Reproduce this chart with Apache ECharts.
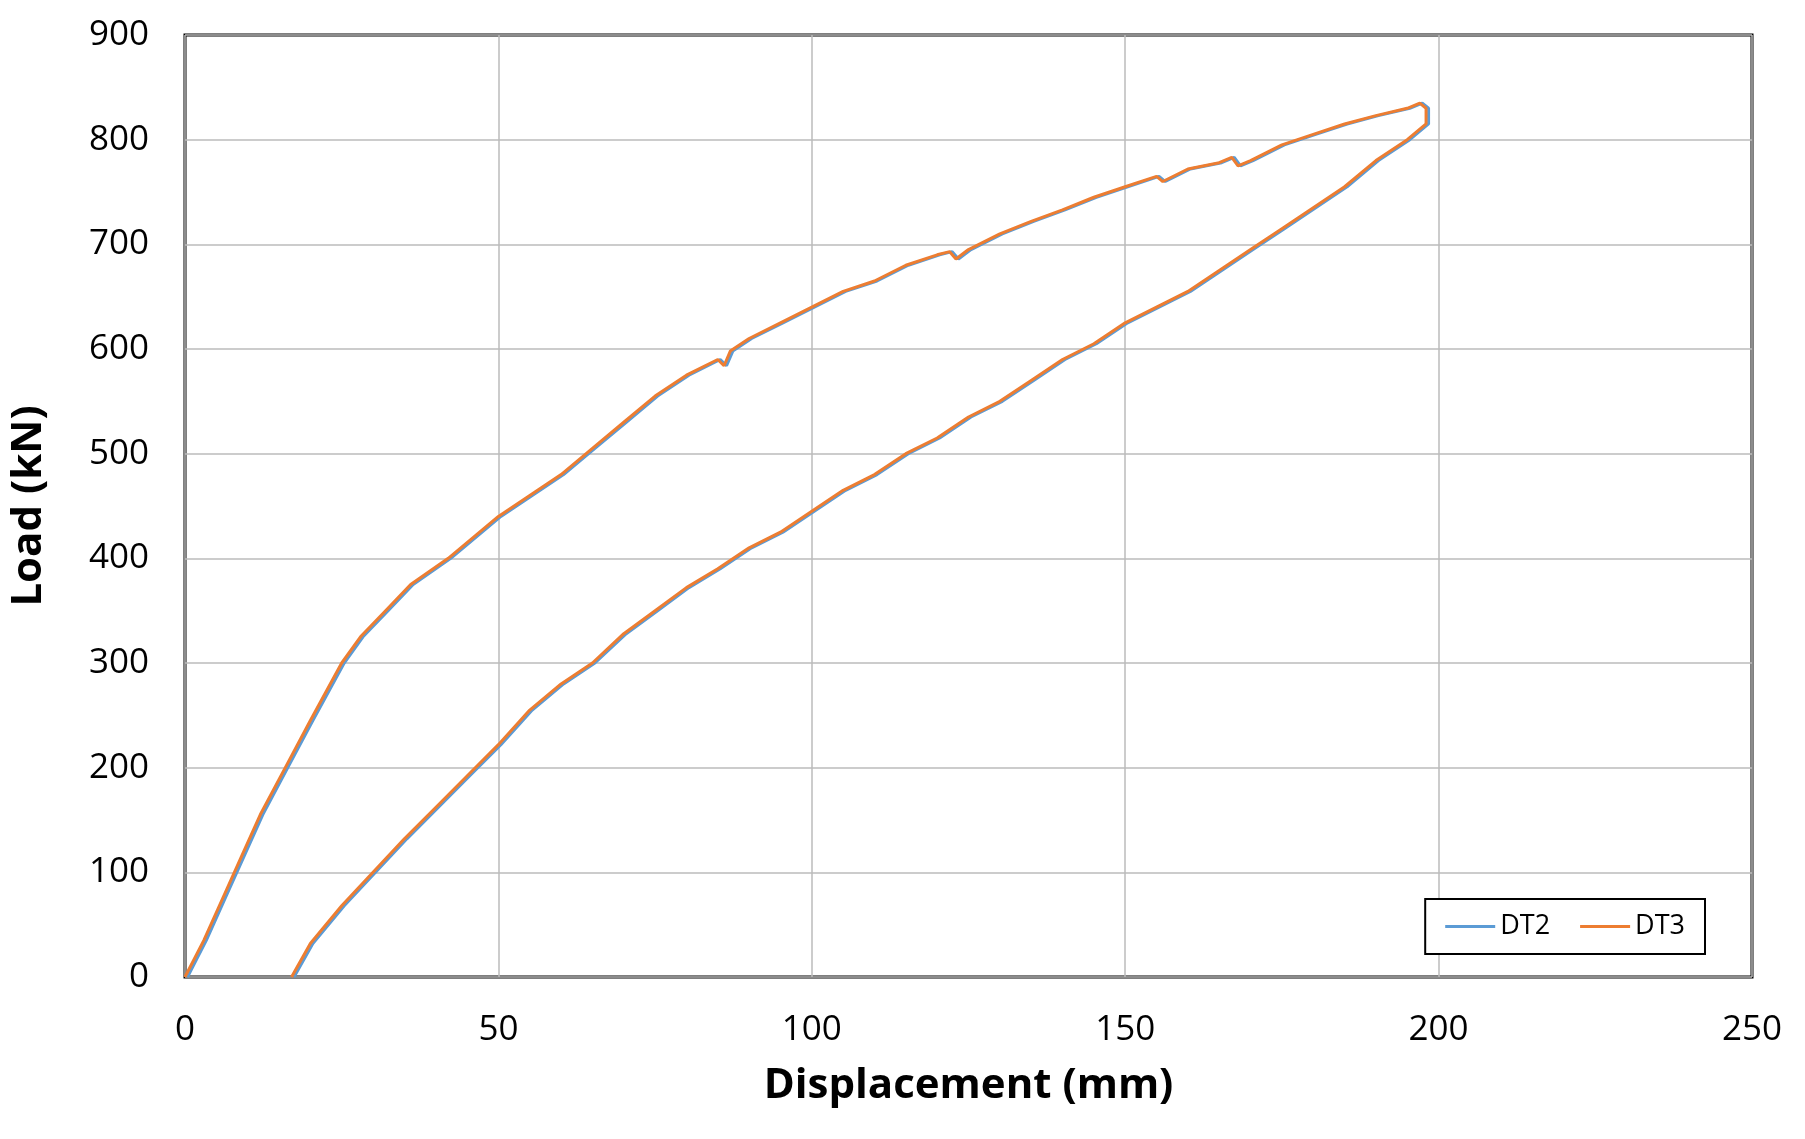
<!DOCTYPE html>
<html><head><meta charset="utf-8">
<script src="https://cdn.jsdelivr.net/npm/echarts@6/dist/echarts.min.js"></script>
<style>html,body{margin:0;padding:0;background:#fff}#c{width:1805px;height:1139px}</style>
</head><body><div id="c"></div>
<script>
const loadX=[0,3,6,9,12,16,20,25,28,32,36,42,50,55,60,65,70,75,80,85,86,87,90,95,100,105,110,115,120,122,123,125,130,135,140,145,150,155,156,160,165,167,168,170,175,180,185,190,195,197,198,198];
const loadY=[0,35,75,115,155,200,245,300,325,350,375,400,440,460,480,505,530,555,575,590,584,598,610,625,640,655,665,680,690,693,686,695,710,722,733,745,755,765,760,772,778,783,775,780,795,805,815,823,830,835,830,815];
const unloadX=[195,190,185,180,175,170,165,160,155,150,145,140,135,130,125,120,115,110,105,100,95,90,85,80,75,70,65,60,55,50,45,40,35,30,25,20,17];
const unloadY=[800,780,755,735,715,695,675,655,640,625,605,590,570,550,535,515,500,480,465,445,425,410,390,372,350,328,300,280,255,222,192,162,132,100,68,32,0];
const seriesNames=['DT2','DT3'];
function build(dx){
  const d=[];
  for(let i=0;i<loadX.length;i++)d.push([loadX[i]+dx,loadY[i]]);
  for(let i=0;i<unloadX.length;i++)d.push([unloadX[i]+dx,unloadY[i]]);
  return d;
}
const dt2=build(0.4), dt3=build(0);
const chart=echarts.init(document.getElementById('c'));
const font='"Open Sans", sans-serif';
chart.setOption({
  animation:false,
  grid:{left:177,right:53,top:35,bottom:162,show:true,borderColor:'#000',borderWidth:3},
  legend:{right:100,bottom:185,orient:'horizontal',backgroundColor:'#fff',borderColor:'#000',borderWidth:2,padding:[14,20,14,20],itemGap:30,itemWidth:50,itemHeight:3,icon:'rect',
    textStyle:{fontFamily:font,fontSize:27,color:'#000'},data:seriesNames},
  xAxis:{type:'value',min:0,max:250,interval:50,name:'Displacement (mm)',nameLocation:'middle',nameGap:88,
    nameTextStyle:{fontFamily:font,fontSize:42,fontWeight:'bold',color:'#000'},
    axisLine:{show:false},axisTick:{show:false},axisLabel:{fontFamily:font,fontSize:35,color:'#000',margin:36},
    splitLine:{lineStyle:{color:'#bbb',width:1.5}}},
  yAxis:{type:'value',min:0,max:900,interval:100,name:'Load (kN)',nameLocation:'middle',nameGap:135,
    nameTextStyle:{fontFamily:font,fontSize:42,fontWeight:'bold',color:'#000'},
    axisLine:{show:false},axisTick:{show:false},axisLabel:{fontFamily:font,fontSize:35,color:'#000',margin:36},
    splitLine:{lineStyle:{color:'#bbb',width:1.5}}},
  series:[
    {name:'DT2',type:'line',data:dt2,showSymbol:false,lineStyle:{color:'#5b9bd5',width:3},itemStyle:{color:'#5b9bd5'}},
    {name:'DT3',type:'line',data:dt3,showSymbol:false,lineStyle:{color:'#ed7d31',width:3},itemStyle:{color:'#ed7d31'}}
  ]
});
</script></body></html>
